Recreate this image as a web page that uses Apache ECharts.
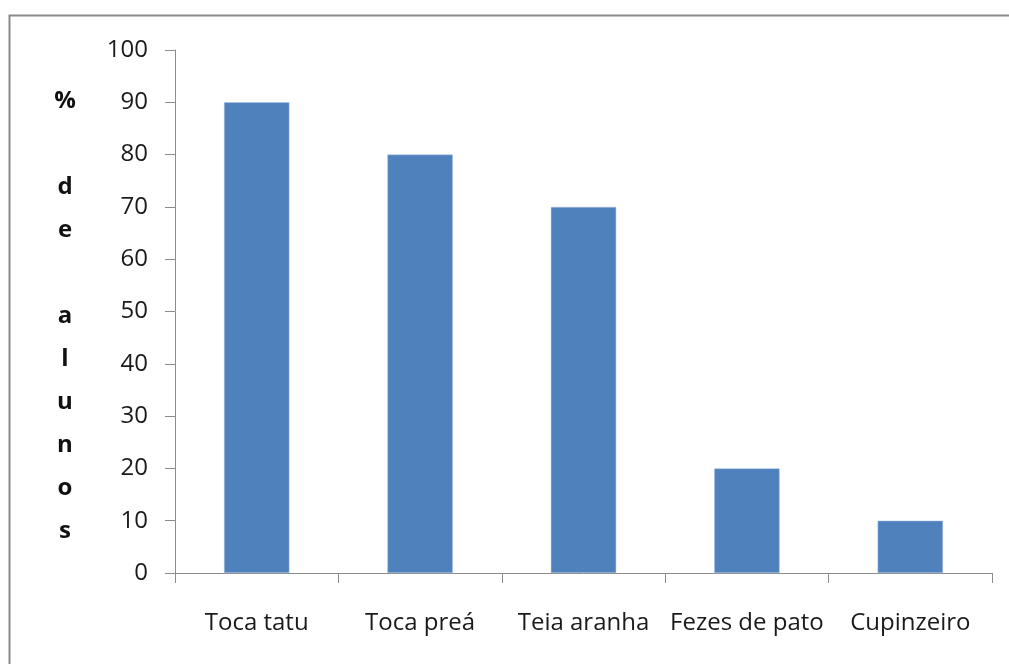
<!DOCTYPE html>
<html>
<head>
<meta charset="utf-8">
<script src="https://cdn.jsdelivr.net/npm/echarts@6/dist/echarts.min.js"></script>
<style>
  html, body { margin: 0; padding: 0; background: #fff; }
  #chart { width: 1009px; height: 664px; }
</style>
</head>
<body>
<div id="chart"></div>
<script>
// 数据
const categories = ['Toca tatu', 'Toca preá', 'Teia aranha', 'Fezes de pato', 'Cupinzeiro'];
const values = [90, 80, 70, 20, 10];
const yLabel = ['%', '', 'd', 'e', '', 'a', 'l', 'u', 'n', 'o', 's'];

const FONT = 'Open Sans';
const AXIS_COLOR = '#8c8c8c';

const chart = echarts.init(document.getElementById('chart'));
chart.setOption({
  animation: false,
  backgroundColor: '#fff',
  graphic: [
    // 外框
    { type: 'rect', shape: { x: 9.5, y: 15.5, width: 1100, height: 700 }, style: { fill: 'none', stroke: '#8a8a8a', lineWidth: 2 }, silent: true },
    // 纵轴标题
    { type: 'text', x: 65, y: 316, style: { text: yLabel.join('\n'), font: 'bold 24px "Open Sans"', textAlign: 'center', textVerticalAlign: 'middle', lineHeight: 43, fill: '#111' } },
  ],
  grid: { left: 175, right: 17, top: 50, bottom: 91 },
  xAxis: {
    type: 'category',
    data: categories,
    axisLine: { lineStyle: { color: AXIS_COLOR, width: 1 } },
    axisTick: { show: true, length: 10, lineStyle: { color: AXIS_COLOR } },
    axisLabel: { color: '#1a1a1a', fontFamily: FONT, fontSize: 24, margin: 38, interval: 0 },
  },
  yAxis: {
    type: 'value',
    min: 0, max: 100, interval: 10,
    axisLine: { show: true, lineStyle: { color: AXIS_COLOR, width: 1 } },
    axisTick: { show: true, length: 10, lineStyle: { color: AXIS_COLOR } },
    axisLabel: { color: '#1a1a1a', fontFamily: FONT, fontSize: 24, margin: 27 },
    splitLine: { show: false },
  },
  series: [{
    type: 'bar',
    data: values,
    barWidth: '40%',
    itemStyle: { color: '#4f81bd', borderColor: '#a9c3e6', borderWidth: 0.5 },
  }],
});
</script>
</body>
</html>
